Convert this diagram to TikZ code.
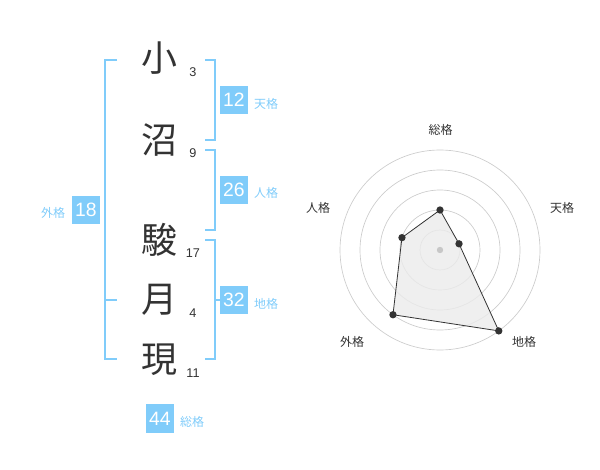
\documentclass[tikz,border=0pt]{standalone}
\usepackage{fontspec}
\setmainfont{Liberation Sans}
\newfontfamily\jpfont{Noto Sans CJK JP}
\definecolor{kakublue}{RGB}{128,204,250}
\definecolor{inkgray}{RGB}{51,51,51}
\tikzset{every picture/.style={line width=0.75pt}}
\tikzset{
  kanji/.style={inner sep=0pt, text=inkgray, font=\jpfont\fontsize{27}{27}\selectfont},
  strokes/.style={inner sep=0pt, text=inkgray, font=\fontsize{9.5}{9.5}\selectfont},
  kakubox/.style={fill=kakublue, text=white, minimum size=21.5pt, inner sep=0pt, font=\fontsize{14.5}{14.5}\selectfont},
  kakulabel/.style={inner sep=0pt, text=kakublue, font=\jpfont\fontsize{9}{9}\selectfont},
  bracket/.style={draw=kakublue, line width=1.5pt},
  ring/.style={draw=black!20, line width=0.5pt},
  axislabel/.style={inner sep=0pt, text=inkgray, font=\jpfont\fontsize{9}{9}\selectfont},
  vertex/.style={circle, fill=inkgray, inner sep=0pt, minimum size=5.5pt},
}

\begin{document}
\begin{tikzpicture}[x=0.75pt,y=0.75pt,yscale=-1,xscale=1]
\useasboundingbox (0,0) rectangle (600,470);

		% name column
		\node [kanji] (k1) at (159,58) {小};
		\node [kanji] (k2) at (159,140) {沼};
		\node [kanji] (k3) at (159,240) {駿};
		\node [kanji] (k4) at (159,300) {月};
		\node [kanji] (k5) at (159,360) {現};
		\node [strokes] (s1) at (193,72) {3};
		\node [strokes] (s2) at (193,153) {9};
		\node [strokes] (s3) at (193,253) {17};
		\node [strokes] (s4) at (193,313) {4};
		\node [strokes] (s5) at (193,373) {11};

		% brackets
		\draw [bracket]  (117,60) -- (105,60) -- (105,359) -- (117,359) ;
		\draw [bracket]  (105,300) -- (117,300) ;
		\draw [bracket]  (205,60) -- (215,60) -- (215,140) -- (205,140) ;
		\draw [bracket]  (205,150) -- (215,150) -- (215,230) -- (205,230) ;
		\draw [bracket]  (205,240) -- (215,240) -- (215,359) -- (205,359) ;
		\draw [bracket]  (215,300) -- (222,300) ;

		% fortune boxes
		\node [kakubox] (ten) at (234,100) {12};
		\node [kakubox] (jin) at (234,190) {26};
		\node [kakubox] (gai) at (86,210) {18};
		\node [kakubox] (chi) at (234,300) {32};
		\node [kakubox] (sou) at (160,418.5) {44};
		\node [kakulabel] (tenl) at (266,104) {天格};
		\node [kakulabel] (jinl) at (266,193) {人格};
		\node [kakulabel] (gail) at (53,213) {外格};
		\node [kakulabel] (chil) at (266,304) {地格};
		\node [kakulabel] (soul) at (192,422) {総格};

		% radar chart
		\coordinate (c) at (440,250);
		\foreach \r in {20,40,60,80,100}
			\draw [ring]  (c) circle [radius=\r] ;

		\coordinate (vsou) at ({440+40*cos(90)},{250-40*sin(90)});
		\coordinate (vten) at ({440+20*cos(18)},{250-20*sin(18)});
		\coordinate (vchi) at ({440+100*cos(-54)},{250-100*sin(-54)});
		\coordinate (vgai) at ({440+80*cos(-126)},{250-80*sin(-126)});
		\coordinate (vjin) at ({440+40*cos(162)},{250-40*sin(162)});

		\draw [draw=inkgray, fill=black!8, fill opacity=0.8, line width=0.6pt]  (vsou) -- (vten) -- (vchi) -- (vgai) -- (vjin) -- cycle ;
		\fill [black!22]  (c) circle [radius=3.2] ;
		\foreach \v in {vsou,vten,vchi,vgai,vjin}
			\node [vertex] at (\v) {};

		\node [axislabel] (asou) at (440.5,130) {総格};
		\node [axislabel] (aten) at (562,208) {天格};
		\node [axislabel] (achi) at (524,342) {地格};
		\node [axislabel] (agai) at (352,342) {外格};
		\node [axislabel] (ajin) at (318,208) {人格};

\end{tikzpicture}
\end{document}
